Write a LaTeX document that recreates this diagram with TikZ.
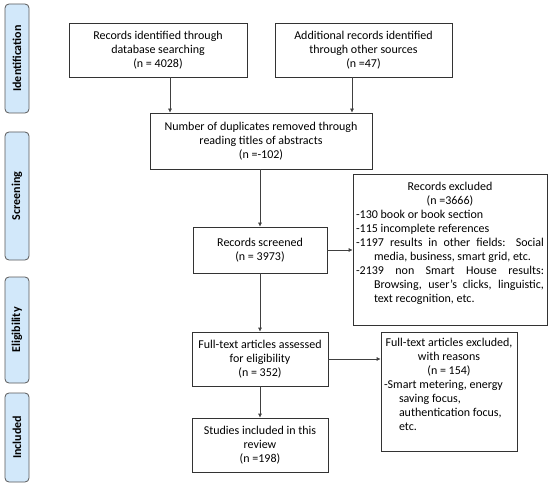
\documentclass[tikz,border=0pt]{standalone}
\usepackage{fontspec}
\setmainfont{Carlito}
\usetikzlibrary{arrows.meta}
\definecolor{sidefill}{HTML}{D2E8FA}
\newcommand{\myjustify}{\leftskip=0pt\rightskip=0pt\parfillskip=0pt plus 1fil\relax}
\begin{document}
\begin{tikzpicture}[x=1pt,y=1pt,
  box/.style={draw=black!80,line width=0.7pt,fill=white,align=center,inner sep=0pt,
    font=\fontsize{12}{14}\selectfont},
  side/.style={draw=black!65,line width=0.8pt,fill=sidefill,rounded corners=4pt,
    inner sep=0pt,font=\fontsize{12}{14}\selectfont\bfseries,rotate=90},
  arr/.style={draw=black!75,line width=0.7pt,-{Latex[length=4pt,width=4pt]}}]
\useasboundingbox (0,0) rectangle (550,-487);
% side labels
\node[side,minimum width=109,minimum height=24] (s1) at (17,-58.5) {Identification};
\node[side,minimum width=128,minimum height=24] (s2) at (17,-196) {Screening};
\node[side,minimum width=106,minimum height=24] (s3) at (17,-330) {Eligibility};
\node[side,minimum width=89,minimum height=24] (s4) at (17,-437.5) {Included};
% boxes
\node[box,minimum width=178,minimum height=54] (rid) at (158,-50)
  {Records identified through\\database searching\\(n = 4028)};
\node[box,minimum width=177,minimum height=54] (add) at (363.5,-50)
  {Additional records identified\\through other sources\\(n =47)};
\node[box,minimum width=222,minimum height=56] (dup) at (261,-141)
  {Number of duplicates removed through\\reading titles of abstracts\\(n =-102)};
\node[box,minimum width=134,minimum height=46] (scr) at (260,-250)
  {Records screened\\(n = 3973)};
\node[box,minimum width=194,minimum height=151,anchor=north] (exc) at (450,-174)
  {\parbox[t][149pt][t]{188pt}{\vspace{7pt}\centering Records excluded\\(n =3666)\par
   \raggedright
   -130 book or book section\par
   -115 incomplete references\par
   \myjustify
   {\hangindent=18pt\hangafter=1 -1197 results in other fields: Social\linebreak media, business, smart grid, etc.\par}
   {\hangindent=18pt\hangafter=1 -2139\ \ non\ \ Smart\ \ House\ \ results:\linebreak Browsing, user’s clicks, linguistic,\linebreak text recognition, etc.\par}}};
\node[box,minimum width=136,minimum height=54] (fta) at (260,-359)
  {Full-text articles assessed\\for eligibility\\(n = 352)};
\node[box,minimum width=136,minimum height=119,anchor=north] (fte) at (449,-332)
  {\parbox[t][117pt][t]{130pt}{\vspace{5pt}\centering Full-text articles excluded,\\with reasons\\(n = 154)\par
   \raggedright
   -Smart metering, energy\\
   \hspace*{15pt}saving focus,\\
   \hspace*{15pt}authentication focus,\\
   \hspace*{15pt}etc.\par}};
\node[box,minimum width=136,minimum height=54] (inc) at (260,-445)
  {Studies included in this\\review\\(n =198)};
% connectors
\draw[arr] ([xshift=12]rid.south) -- ([xshift=12]rid.south |- dup.north);
\draw[arr] ([xshift=-11.5]add.south) -- ([xshift=-11.5]add.south |- dup.north);
\draw[arr] (dup.south -| scr.north) -- (scr.north);
\draw[arr] (scr.east) -- (scr.east -| exc.west);
\draw[arr] (scr.south) -- (fta.north);
\draw[arr] (fta.east) -- (fta.east -| fte.west);
\draw[arr] (fta.south) -- (inc.north);
\end{tikzpicture}
\end{document}
